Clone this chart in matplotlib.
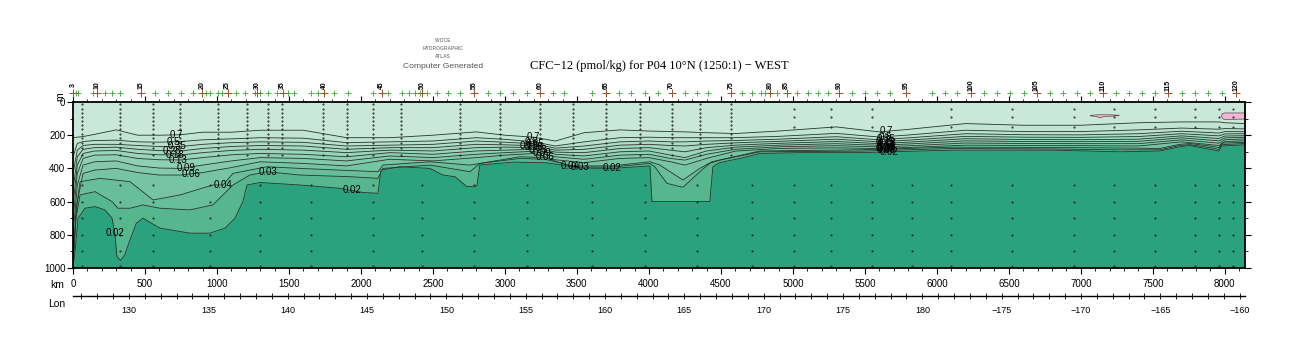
import numpy as np
import matplotlib.pyplot as plt
from matplotlib.ticker import MultipleLocator, FixedLocator, FuncFormatter
import matplotlib.transforms as mtransforms

plt.rcParams['font.family'] = ['Liberation Sans', 'DejaVu Sans']

# ---------------- data read off the section ----------------
# shared distance grid (km) for the upper, smoother isolines
grid_km = [0, 30, 70, 150, 300, 450, 600, 750, 900, 1100, 1300, 1600, 1900, 2200,
           2500, 2800, 3000, 3200, 3350, 3550, 3800, 4000, 4150, 4250, 4400, 4600,
           4900, 5300, 5600, 5800, 6200, 6600, 7000, 7400, 7700, 7960, 8000, 8140]

# depth (m) of each isoline on grid_km
d070 = [215, 212, 208, 195, 168, 200, 200, 197, 182, 182, 170, 170, 215, 215, 200, 180, 200, 212, 235,
        185, 168, 175, 178, 180, 185, 190, 175, 150, 180, 165, 130, 140, 140, 125, 120, 120, 125, 130]
d050 = [330, 250, 238, 232, 230, 240, 242, 238, 228, 222, 215, 218, 245, 240, 235, 215, 225, 240, 265,
        240, 215, 212, 215, 215, 215, 215, 207, 189, 211, 199, 170, 178, 178, 168, 157, 164, 160, 162]
d035 = [430, 290, 262, 255, 255, 262, 268, 268, 255, 245, 240, 243, 265, 260, 255, 235, 242, 252, 278,
        265, 240, 235, 240, 240, 235, 232, 224, 209, 228, 216, 191, 197, 198, 191, 176, 187, 178, 179]
d025 = [530, 330, 285, 275, 272, 285, 293, 295, 280, 268, 262, 265, 285, 275, 275, 255, 258, 263, 290,
        285, 260, 255, 262, 265, 255, 246, 237, 224, 240, 230, 207, 212, 213, 208, 191, 204, 192, 191]
d018 = [620, 380, 310, 295, 292, 310, 318, 319, 305, 292, 285, 290, 305, 290, 295, 275, 272, 274, 302,
        305, 280, 275, 290, 300, 275, 260, 249, 238, 251, 242, 221, 226, 227, 224, 204, 220, 205, 203]
d013 = [710, 430, 340, 320, 318, 340, 348, 349, 335, 318, 310, 315, 330, 305, 315, 295, 290, 285, 315,
        325, 300, 295, 320, 335, 295, 272, 260, 251, 261, 253, 234, 238, 239, 237, 216, 234, 216, 213]
d009 = [800, 500, 380, 360, 355, 385, 398, 400, 380, 355, 335, 340, 355, 325, 335, 315, 305, 297, 330,
        345, 320, 315, 340, 350, 315, 285, 270, 263, 271, 264, 247, 250, 251, 251, 228, 248, 227, 223]
d006 = [900, 600, 430, 410, 400, 425, 440, 440, 425, 395, 360, 370, 385, 345, 355, 335, 320, 310, 348,
        365, 340, 335, 360, 380, 340, 296, 280, 276, 281, 274, 260, 262, 263, 265, 240, 262, 238, 234]

# the three deepest isolines have more detailed shapes
km004 = [0, 21, 49, 188, 396, 556, 743, 972, 1042, 1111, 1347, 1576, 2118, 2153, 2479, 2757, 3104,
         3278, 3451, 3743, 4007, 4076, 4236, 4354, 4437, 4771, 5465, 6111, 6805, 7270, 7548, 7687,
         7757, 7895, 7958, 7979, 8140]
d004 = [1000, 650, 480, 460, 480, 590, 560, 500, 500, 430, 390, 400, 420, 380, 360, 380, 330,
        335, 385, 385, 360, 380, 470, 400, 360, 295, 288, 272, 274, 277, 280, 255,
        250, 265, 274, 248, 243]

km003 = [0, 21, 49, 153, 271, 312, 396, 486, 604, 812, 972, 1111, 1229, 1347, 1576, 1924, 2118, 2153,
         2479, 2618, 2757, 2826, 3104, 3278, 3500, 3743, 4007, 4041, 4125, 4236, 4354, 4423, 4493,
         4771, 5465, 6111, 6805, 7270, 7548, 7687, 7757, 7895, 7958, 7979, 8140]
d003 = [1000, 700, 560, 540, 600, 640, 640, 620, 640, 650, 620, 500, 440, 420, 440, 450, 460, 400,
        380, 400, 420, 370, 340, 345, 392, 392, 370, 390, 490, 514, 420, 369, 350,
        300, 296, 280, 283, 288, 288, 262, 257, 275, 285, 257, 250]

km002 = [0, 14, 35, 83, 153, 222, 271, 292, 305, 330, 360, 400, 440, 486, 604, 812, 951, 1056, 1125,
         1180, 1208, 1299, 1576, 1854, 2014, 2118, 2139, 2271, 2479, 2569, 2653, 2736, 2805, 2826,
         3055, 3291, 3521, 3743, 4007, 4021, 4423, 4444, 4493, 4632, 4771, 5049, 5465, 6111, 6805,
         7270, 7548, 7687, 7757, 7895, 7958, 7979, 8140]
d002 = [1000, 900, 700, 640, 630, 650, 700, 800, 930, 955, 920, 820, 730, 700, 760, 790, 790, 760, 700,
        600, 500, 485, 500, 520, 545, 550, 410, 390, 400, 440, 450, 510, 506, 380,
        362, 366, 398, 400, 385, 600, 600, 390, 365, 340, 310, 305, 305, 290, 290,
        300, 295, 270, 262, 285, 295, 265, 258]

# subsurface maxima (pink)
pinkA_km = [7062, 7100, 7130, 7151, 7200, 7262]
pinkA_top = [78, 75, 74, 74, 74, 77]
pinkA_bot = [80, 84, 92, 86, 83, 79]
pinkB_km = [7975, 7985, 8000, 8140]
pinkB_top = [74, 65, 63, 63]
pinkB_bot = [86, 100, 102, 100]

# contour label positions (km) along each isoline
lab_west = {'0.7': 715, '0.5': 694, '0.35': 722, '0.25': 687, '0.18': 708, '0.13': 729,
            '0.09': 785, '0.06': 819, '0.04': 1042, '0.03': 1354, '0.02': 1937}
lab_mid = {'0.7': 3194, '0.5': 3180, '0.35': 3210, '0.25': 3170, '0.18': 3200, '0.13': 3230,
           '0.09': 3260, '0.06': 3280, '0.04': 3451, '0.03': 3521, '0.02': 3743}
lab_east = {'0.7': 5646, '0.5': 5640, '0.35': 5650, '0.25': 5640, '0.18': 5655, '0.13': 5645,
            '0.09': 5650, '0.06': 5640, '0.04': 5655, '0.03': 5645, '0.02': 5670}
lab_tongue_km = 290

# stations along the track (km)
station_km = [2, 19, 37, 141, 165, 222, 273, 326, 472, 569, 658, 750, 835, 894, 921, 951, 1005,
              1033, 1074, 1132, 1194, 1264, 1280, 1296, 1356, 1415, 1456, 1495, 1537, 1653, 1703,
              1745, 1815, 1912, 2085, 2144, 2189, 2283, 2333, 2375, 2410, 2426, 2456, 2526, 2606,
              2687, 2787, 2884, 2965, 3057, 3150, 3243, 3335, 3412, 3602, 3701, 3791, 3875, 3972,
              4064, 4157, 4250, 4331, 4412, 4569, 4643, 4713, 4778, 4805, 4840, 4887, 4956, 5025,
              5106, 5176, 5245, 5321, 5407, 5500, 5581, 5673, 5784, 5963, 6055, 6141, 6234, 6326,
              6419, 6511, 6604, 6692, 6789, 6877, 6970, 7062, 7151, 7243, 7335, 7428, 7514, 7606,
              7699, 7791, 7884, 7977, 8080]
label_km = [2, 165, 472, 894, 1074, 1280, 1456, 1745, 2144, 2426, 2787, 3243, 3701, 4157, 4569,
            4840, 4956, 5321, 5784, 6234, 6692, 7151, 7606, 8080]
label_txt = ['3', '10', '15', '20', '25', '30', '35', '40', '45', '50', '55', '60', '65', '70',
             '75', '80', '85', '90', '95', '100', '105', '110', '115', '120']

# bottle samples
dense_km = [62, 326, 556, 743, 1007, 1208, 1354, 1451, 1736, 1903, 2083, 2278, 2687, 2965,
            3243, 3472, 3701, 3937, 4160, 4354, 4569]
dense_depth = [15, 40, 65, 90, 115, 140, 165, 190, 215, 245, 280, 320]
east_km = [5005, 5264, 5546, 6100, 6520, 6951, 7233, 7514, 7791, 7958, 8060]
east_depth = [45, 90, 150]
deep_km = [62, 326, 556, 951, 1296, 1653, 2085, 2426, 2787, 3150, 3602, 3972, 4331, 4713, 5005,
           5264, 5546, 5830, 6100, 6520, 6951, 7233, 7514, 7791, 7958, 8060]
deep_depth = [500, 600, 700, 800, 900, 990]

# longitude of km 0 and km per degree along 10N
lon0 = 126.47
km_per_deg = 110.2

# ---------------- figure ----------------
fig = plt.figure(figsize=(13, 3.5), dpi=100)
ax = fig.add_axes([73 / 1300, 1 - 268 / 350, (1245 - 73) / 1300, (268 - 102) / 350])

names = ['0.02', '0.03', '0.04', '0.06', '0.09', '0.13', '0.18', '0.25', '0.35', '0.5', '0.7']
iso_km = [km002, km003, km004] + [grid_km] * 8
iso_d = [d002, d003, d004, d006, d009, d013, d018, d025, d035, d050, d070]

deep_col = '#2ba27e'
band_cols = ['#56b68d', '#68be99', '#76c4a3', '#83caab', '#8fcfb2', '#9ad4b9',
             '#a5d8c0', '#afdcc6', '#b9e1cd', '#c2e4d3', '#c9e8d9']
line_col = '#24352c'

ax.fill_between([0, 8140], 0, 1000, color=deep_col, lw=0)
for k, d, c in zip(iso_km, iso_d, band_cols):
    ax.fill_between(k, 0, d, color=c, lw=0)
for k, d in zip(iso_km, iso_d):
    ax.plot(k, d, color=line_col, lw=0.6)

for pk, pt, pb in [(pinkA_km, pinkA_top, pinkA_bot), (pinkB_km, pinkB_top, pinkB_bot)]:
    ax.fill_between(pk, pt, pb, facecolor='#f2b6d4', edgecolor='#5a4a50', lw=0.5)

# contour labels
for labs in (lab_west, lab_mid, lab_east):
    for nm, kx in labs.items():
        i = names.index(nm)
        y = np.interp(kx, iso_km[i], iso_d[i])
        ax.text(kx, y, nm, fontsize=7, ha='center', va='center', color='black')
ax.text(lab_tongue_km, np.interp(lab_tongue_km, km002, d002), '0.02', fontsize=7,
        ha='center', va='center')

# bottle dots
for kx in dense_km:
    ax.plot([kx] * len(dense_depth), dense_depth, ls='none', marker='.', ms=1.0, color='#222')
for kx in east_km:
    ax.plot([kx] * len(east_depth), east_depth, ls='none', marker='.', ms=1.0, color='#222')
for kx in deep_km:
    ax.plot([kx] * len(deep_depth), deep_depth, ls='none', marker='.', ms=1.0, color='#222')

ax.set_xlim(0, 8140)
ax.set_ylim(1000, 0)

# station markers along the top
trans = mtransforms.blended_transform_factory(ax.transData, ax.transAxes)
ax.plot(station_km, [1.054] * len(station_km), ls='none', marker='+', ms=4, mew=0.6,
        color='#3aa63a', transform=trans, clip_on=False)
ax.plot(label_km, [1.054] * len(label_km), ls='none', marker='+', ms=6, mew=0.7,
        color='#a0502a', transform=trans, clip_on=False)
for kx, t in zip(label_km, label_txt):
    ax.text(kx, 1.1, t, transform=trans, rotation=90, fontsize=5, ha='center', va='center',
            fontweight='bold')

# axes styling
for s in ax.spines.values():
    s.set_linewidth(1.3)
ax.xaxis.set_major_locator(MultipleLocator(500))
ax.xaxis.set_minor_locator(MultipleLocator(100))
ax.yaxis.set_major_locator(MultipleLocator(200))
ax.yaxis.set_minor_locator(MultipleLocator(100))
ax.tick_params(axis='x', which='both', top=True, bottom=True, direction='out', labelsize=7, pad=3.5)
ax.tick_params(axis='x', which='major', length=4.5, width=0.8)
ax.tick_params(axis='x', which='minor', length=2.2, width=0.6)
ax.tick_params(axis='y', which='both', left=True, right=True, direction='out', labelsize=7, pad=1)
ax.tick_params(axis='y', which='major', length=4.5, width=0.8)
ax.tick_params(axis='y', which='minor', length=2.5, width=0.6)

fig.text(57 / 1300, 1 - 285 / 350, 'km', fontsize=7.5, ha='center', va='center')
fig.text(57 / 1300, 1 - 304 / 350, 'Lon', fontsize=7.5, ha='center', va='center')
ax.text(-0.011, 1.035, 'm', transform=ax.transAxes, rotation=90, fontsize=7.5, ha='center', va='center')

# longitude axis
def km2lon(x):
    return lon0 + np.asarray(x) / km_per_deg


def lon2km(v):
    return (np.asarray(v) - lon0) * km_per_deg


lonax = ax.secondary_xaxis((268 - 296) / 166, functions=(km2lon, lon2km))
lonax.xaxis.set_major_locator(FixedLocator(np.arange(130, 201, 5)))
lonax.xaxis.set_minor_locator(FixedLocator(np.arange(127, 201, 1)))
lonax.xaxis.set_major_formatter(FuncFormatter(
    lambda v, p: f'\u2212{int(round(360 - v))}' if v > 180.5 else f'{int(round(v))}'))
lonax.tick_params(which='both', direction='inout', length=5, width=0.6, labelsize=6.5, pad=5)
lonax.spines['bottom'].set_linewidth(1.0)

# header
fig.text(443 / 1300, 1 - 40 / 350, 'WOCE', fontsize=3.5, ha='center', va='center', color='#888',
         fontweight='bold')
fig.text(443 / 1300, 1 - 48 / 350, 'HYDROGRAPHIC', fontsize=3.5, ha='center', va='center',
         color='#888', fontweight='bold')
fig.text(443 / 1300, 1 - 56 / 350, 'ATLAS', fontsize=3.5, ha='center', va='center', color='#888',
         fontweight='bold')
fig.text(443 / 1300, 1 - 67 / 350, 'Computer Generated', fontsize=6.1, ha='center', va='center',
         color='#555')
fig.text(659 / 1300, 1 - 66 / 350, 'CFC\u221212 (pmol/kg) for P04 10\u00b0N (1250:1) \u2212 WEST',
         fontsize=9, ha='center', va='center', family=['Liberation Serif', 'DejaVu Serif'])

fig.savefig('out.png', dpi=100)
